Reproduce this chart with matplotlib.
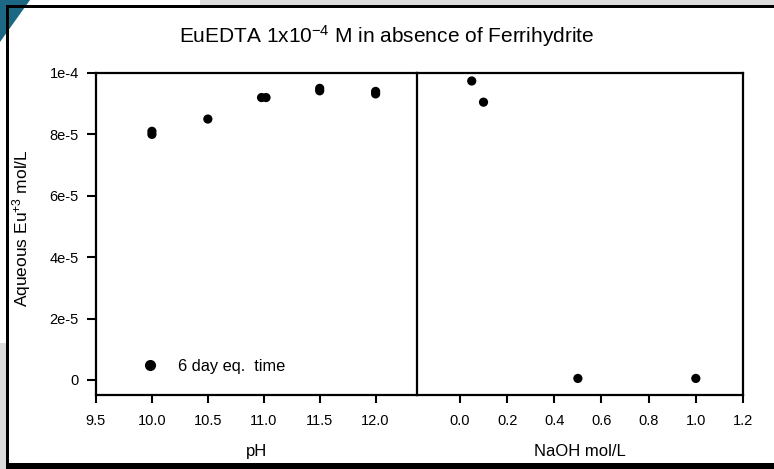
import matplotlib
matplotlib.use("Agg")
import matplotlib.pyplot as plt
from matplotlib.patches import Rectangle, Polygon
from matplotlib.lines import Line2D

plt.rcParams["font.family"] = ["Liberation Sans", "DejaVu Sans"]
plt.rcParams["mathtext.default"] = "regular"

# Aqueous Eu(III) vs pH (replicate measurements at each pH)
ph_values = [10.0, 10.0, 10.5, 10.98, 11.02, 11.5, 11.5, 12.0, 12.0]
ph_eu = [8.0e-5, 8.1e-5, 8.5e-5, 9.2e-5, 9.2e-5, 9.42e-5, 9.5e-5, 9.32e-5, 9.4e-5]

# Aqueous Eu(III) vs added NaOH concentration
naoh_values = [0.05, 0.1, 0.5, 1.0]
naoh_eu = [9.74e-5, 9.05e-5, 0.5e-6, 0.5e-6]

ph_ticks = [9.5, 10.0, 10.5, 11.0, 11.5, 12.0]
naoh_ticks = [0.0, 0.2, 0.4, 0.6, 0.8, 1.0, 1.2]
y_ticks = [0, 2e-5, 4e-5, 6e-5, 8e-5, 1e-4]
y_tick_labels = ["0", "2e-5", "4e-5", "6e-5", "8e-5", "1e-4"]

W, H = 774, 469
fig = plt.figure(figsize=(W / 100, H / 100), dpi=100)


def px(x0, y0, x1, y1):
    """Pixel box (top-left origin) to figure-fraction rect."""
    return [x0 / W, 1 - y1 / H, (x1 - x0) / W, (y1 - y0) / H]


# window decoration around the plot area
for (x0, y0, x1, y1), col in [((200, 0, W, 5), "#dcdcdc"),
                              ((0, 343, 7, H), "#dcdcdc")]:
    r = px(x0, y0, x1, y1)
    fig.add_artist(Rectangle((r[0], r[1]), r[2], r[3], transform=fig.transFigure,
                             facecolor=col, edgecolor="none", zorder=0))
fig.add_artist(Polygon([(0, 1), (30 / W, 1), (0, 1 - 42 / H)], closed=True,
                       transform=fig.transFigure, facecolor="#1c6884",
                       edgecolor="none", zorder=1))
for (x0, y0, x1, y1) in [(6, 5, W, 8), (6, 5, 9, H), (6, 463, W, H)]:
    r = px(x0, y0, x1, y1)
    fig.add_artist(Rectangle((r[0], r[1]), r[2], r[3], transform=fig.transFigure,
                             facecolor="black", edgecolor="none", zorder=2))

ax1 = fig.add_axes(px(96, 73, 417, 395))
ax2 = fig.add_axes(px(417, 73, 743, 395))

ylo, yhi = -4.9e-6, 1e-4
for ax in (ax1, ax2):
    ax.set_ylim(ylo, yhi)
    for s in ax.spines.values():
        s.set_linewidth(1.6)
    ax.tick_params(direction="out", length=5.5, width=1.5, labelsize=10.5, pad=8)

ax1.scatter(ph_values, ph_eu, s=44, color="black", edgecolors="none", zorder=3)
ax1.set_xlim(9.5, 12.37)
ax1.set_xticks(ph_ticks)
ax1.set_xticklabels([f"{t:.1f}" for t in ph_ticks])
ax1.set_yticks(y_ticks)
ax1.set_yticklabels(y_tick_labels)
ax1.tick_params(axis="y", length=6.5, pad=6)
ax1.spines["right"].set_visible(False)
ax1.set_xlabel("pH", fontsize=12, labelpad=12)
ax1.set_ylabel("Aqueous Eu$^{+3}$ mol/L", fontsize=12.5)
ax1.yaxis.set_label_coords((33 - 96) / 321, (395 - 228) / 322)

ax2.scatter(naoh_values, naoh_eu, s=44, color="black", edgecolors="none", zorder=3)
ax2.set_xlim(-0.182, 1.2)
ax2.set_xticks(naoh_ticks)
ax2.set_xticklabels([f"{t:.1f}" for t in naoh_ticks])
ax2.set_yticks([])
ax2.set_xlabel("NaOH mol/L", fontsize=12, labelpad=12)

handle = Line2D([], [], linestyle="none", marker="o", markersize=8,
                color="black", markeredgewidth=0)
ax1.legend([handle], ["6 day eq.  time"], loc="center left",
           bbox_to_anchor=(0.118, 0.09), frameon=False, fontsize=11.8,
           handletextpad=1.2, borderpad=0, handlelength=1.0)

fig.text(387 / W, 1 - 36 / H, "EuEDTA 1x10$^{-4}$ M in absence of Ferrihydrite",
         ha="center", va="center", fontsize=15)

fig.savefig("out.png", dpi=100)
